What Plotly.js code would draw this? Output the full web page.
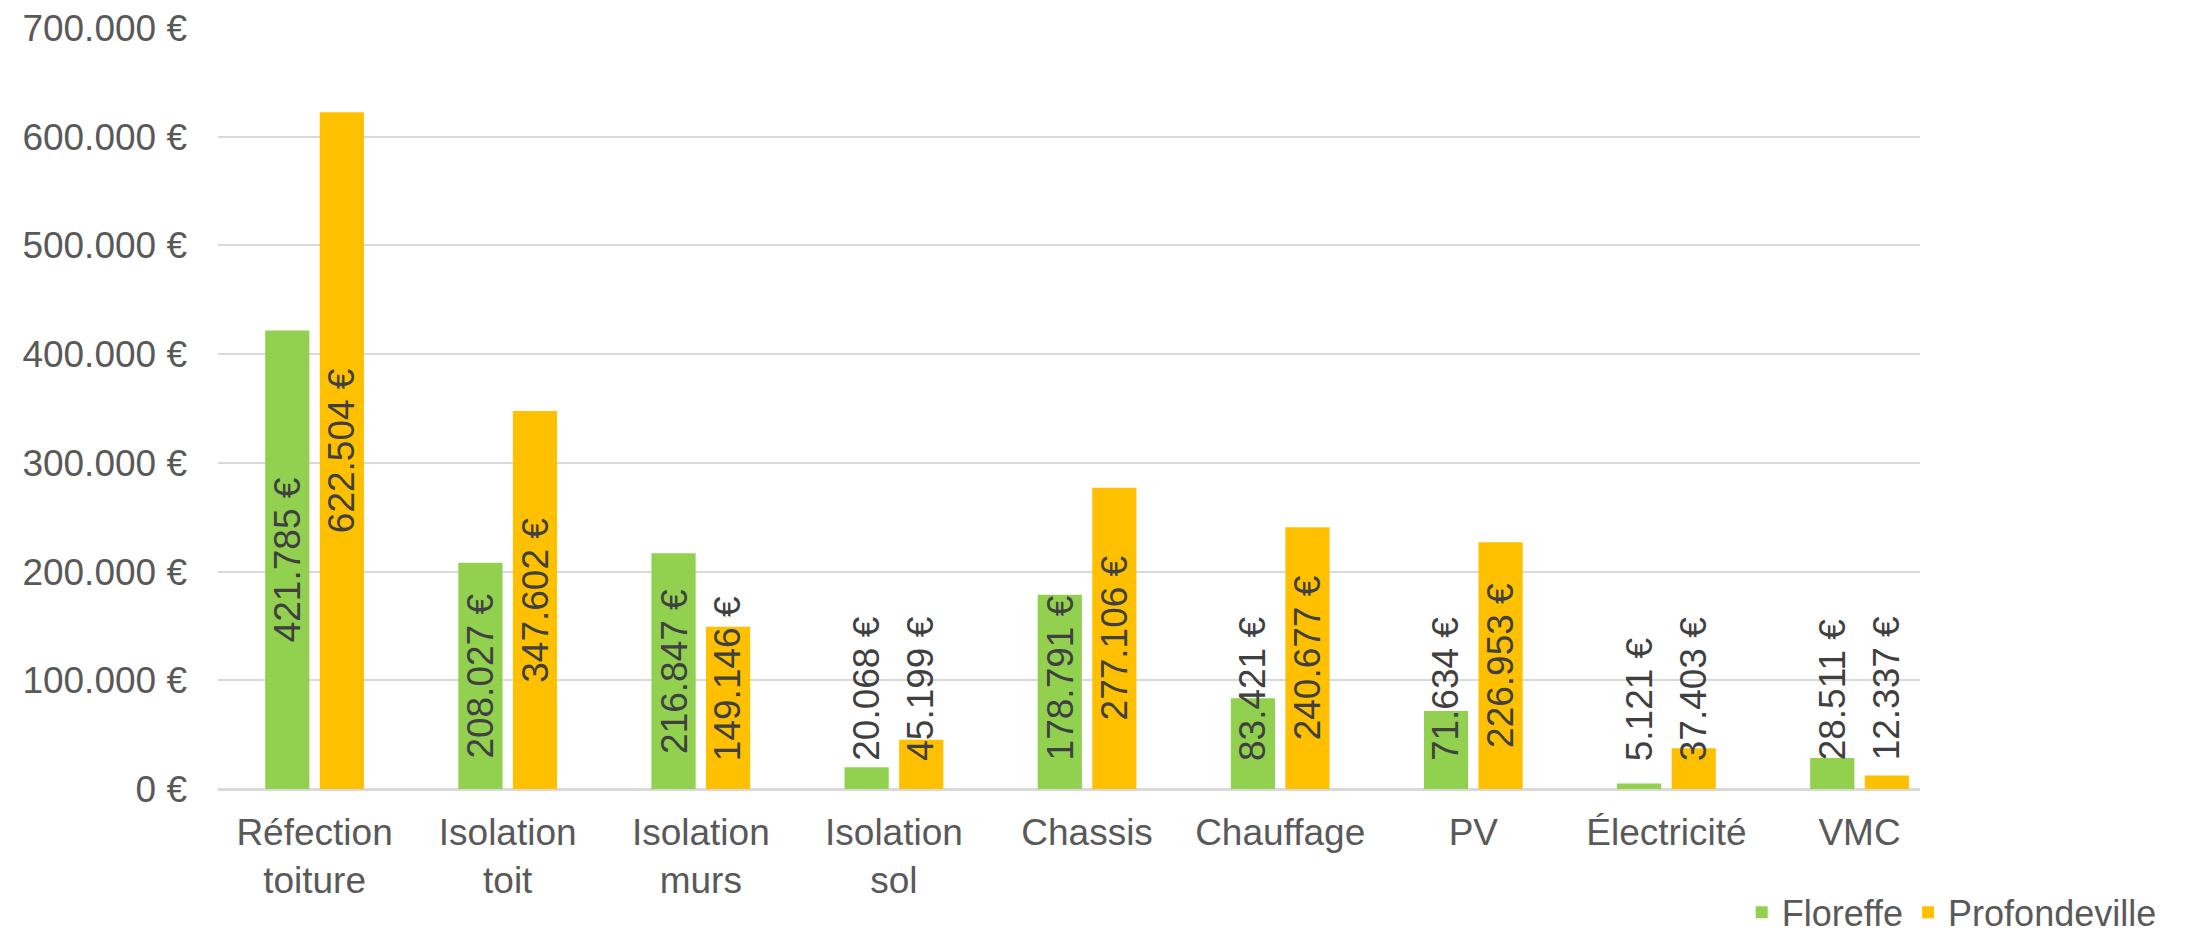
<!DOCTYPE html>
<html>
<head>
<meta charset="utf-8">
<script src="https://cdn.plot.ly/plotly-3.0.1.min.js"></script>
<style>
  html, body { margin: 0; padding: 0; background: #fff; }
  #myDiv { width: 2194px; height: 935px; }
</style>
</head>
<body>
<div id="myDiv"></div>
<script>
// categories and series values
var categories = ['Réfection<br>toiture', 'Isolation<br>toit', 'Isolation<br>murs', 'Isolation<br>sol',
                  'Chassis', 'Chauffage', 'PV', 'Électricité', 'VMC'];
var floreffe = [421785, 208027, 216847, 20068, 178791, 83421, 71634, 5121, 28511];
var profondeville = [622504, 347602, 149146, 45199, 277106, 240677, 226953, 37403, 12337];
var seriesNames = ['Floreffe', 'Profondeville'];
var yTicks = [0, 100000, 200000, 300000, 400000, 500000, 600000, 700000];

var green = '#92d050';
var orange = '#ffc000';
var fontFamily = '"Liberation Sans", Arial, sans-serif';

// 421785 -> "421.785 €"
function euro(v) {
  return String(v).replace(/\B(?=(\d{3})+(?!\d))/g, '.') + ' €';
}

var yTickText = yTicks.map(euro);

var data = [{
  x: categories,
  y: floreffe,
  name: seriesNames[0],
  type: 'bar',
  marker: {color: green},
  hoverinfo: 'none'
}, {
  x: categories,
  y: profondeville,
  name: seriesNames[1],
  type: 'bar',
  marker: {color: orange},
  hoverinfo: 'none'
}];

// value labels, rotated, centred in the bar (kept above the axis on short bars)
var annotations = [];
var shift = 27;
var series = [floreffe, profondeville];
for (var s = 0; s < series.length; s++) {
  for (var i = 0; i < categories.length; i++) {
    var v = series[s][i];
    var low = (v / 2 - 76000) < 25000;
    annotations.push({
      xref: 'x',
      yref: 'y',
      x: categories[i],
      y: low ? 25000 : v / 2,
      xshift: s == 0 ? -shift : shift,
      xanchor: 'center',
      yanchor: low ? 'bottom' : 'middle',
      text: euro(v),
      textangle: -90,
      showarrow: false,
      borderpad: 0,
      font: {family: fontFamily, size: 37, color: '#404040'}
    });
  }
}

var layout = {
  width: 2194,
  height: 935,
  margin: {l: 218, r: 274, t: 28, b: 146, autoexpand: false},
  paper_bgcolor: '#ffffff',
  plot_bgcolor: '#ffffff',
  showlegend: true,
  barmode: 'group',
  bargap: 0.435,
  bargroupgap: 0.19,
  font: {family: fontFamily, size: 37, color: '#595959'},
  xaxis: {
    type: 'category',
    range: [-0.5, 8.313],
    showgrid: false,
    showline: false,
    zeroline: false,
    automargin: false,
    ticks: '',
    ticklabelstandoff: 18,
    tickfont: {family: fontFamily, size: 37, color: '#595959'}
  },
  yaxis: {
    range: [0, 700000],
    tickvals: yTicks,
    ticktext: yTickText,
    showgrid: true,
    gridcolor: '#d9d9d9',
    gridwidth: 2,
    zeroline: true,
    zerolinecolor: '#d9d9d9',
    zerolinewidth: 3,
    showline: false,
    automargin: false,
    ticks: '',
    ticklabelstandoff: 30,
    tickfont: {family: fontFamily, size: 37, color: '#595959'}
  },
  legend: {
    orientation: 'h',
    x: 1.142,
    xanchor: 'right',
    y: -0.162,
    yanchor: 'middle',
    itemwidth: 30,
    font: {family: fontFamily, size: 36, color: '#595959'},
    bgcolor: 'rgba(0,0,0,0)'
  },
  annotations: annotations
};

Plotly.newPlot('myDiv', data, layout, {staticPlot: true});
</script>
</body>
</html>
